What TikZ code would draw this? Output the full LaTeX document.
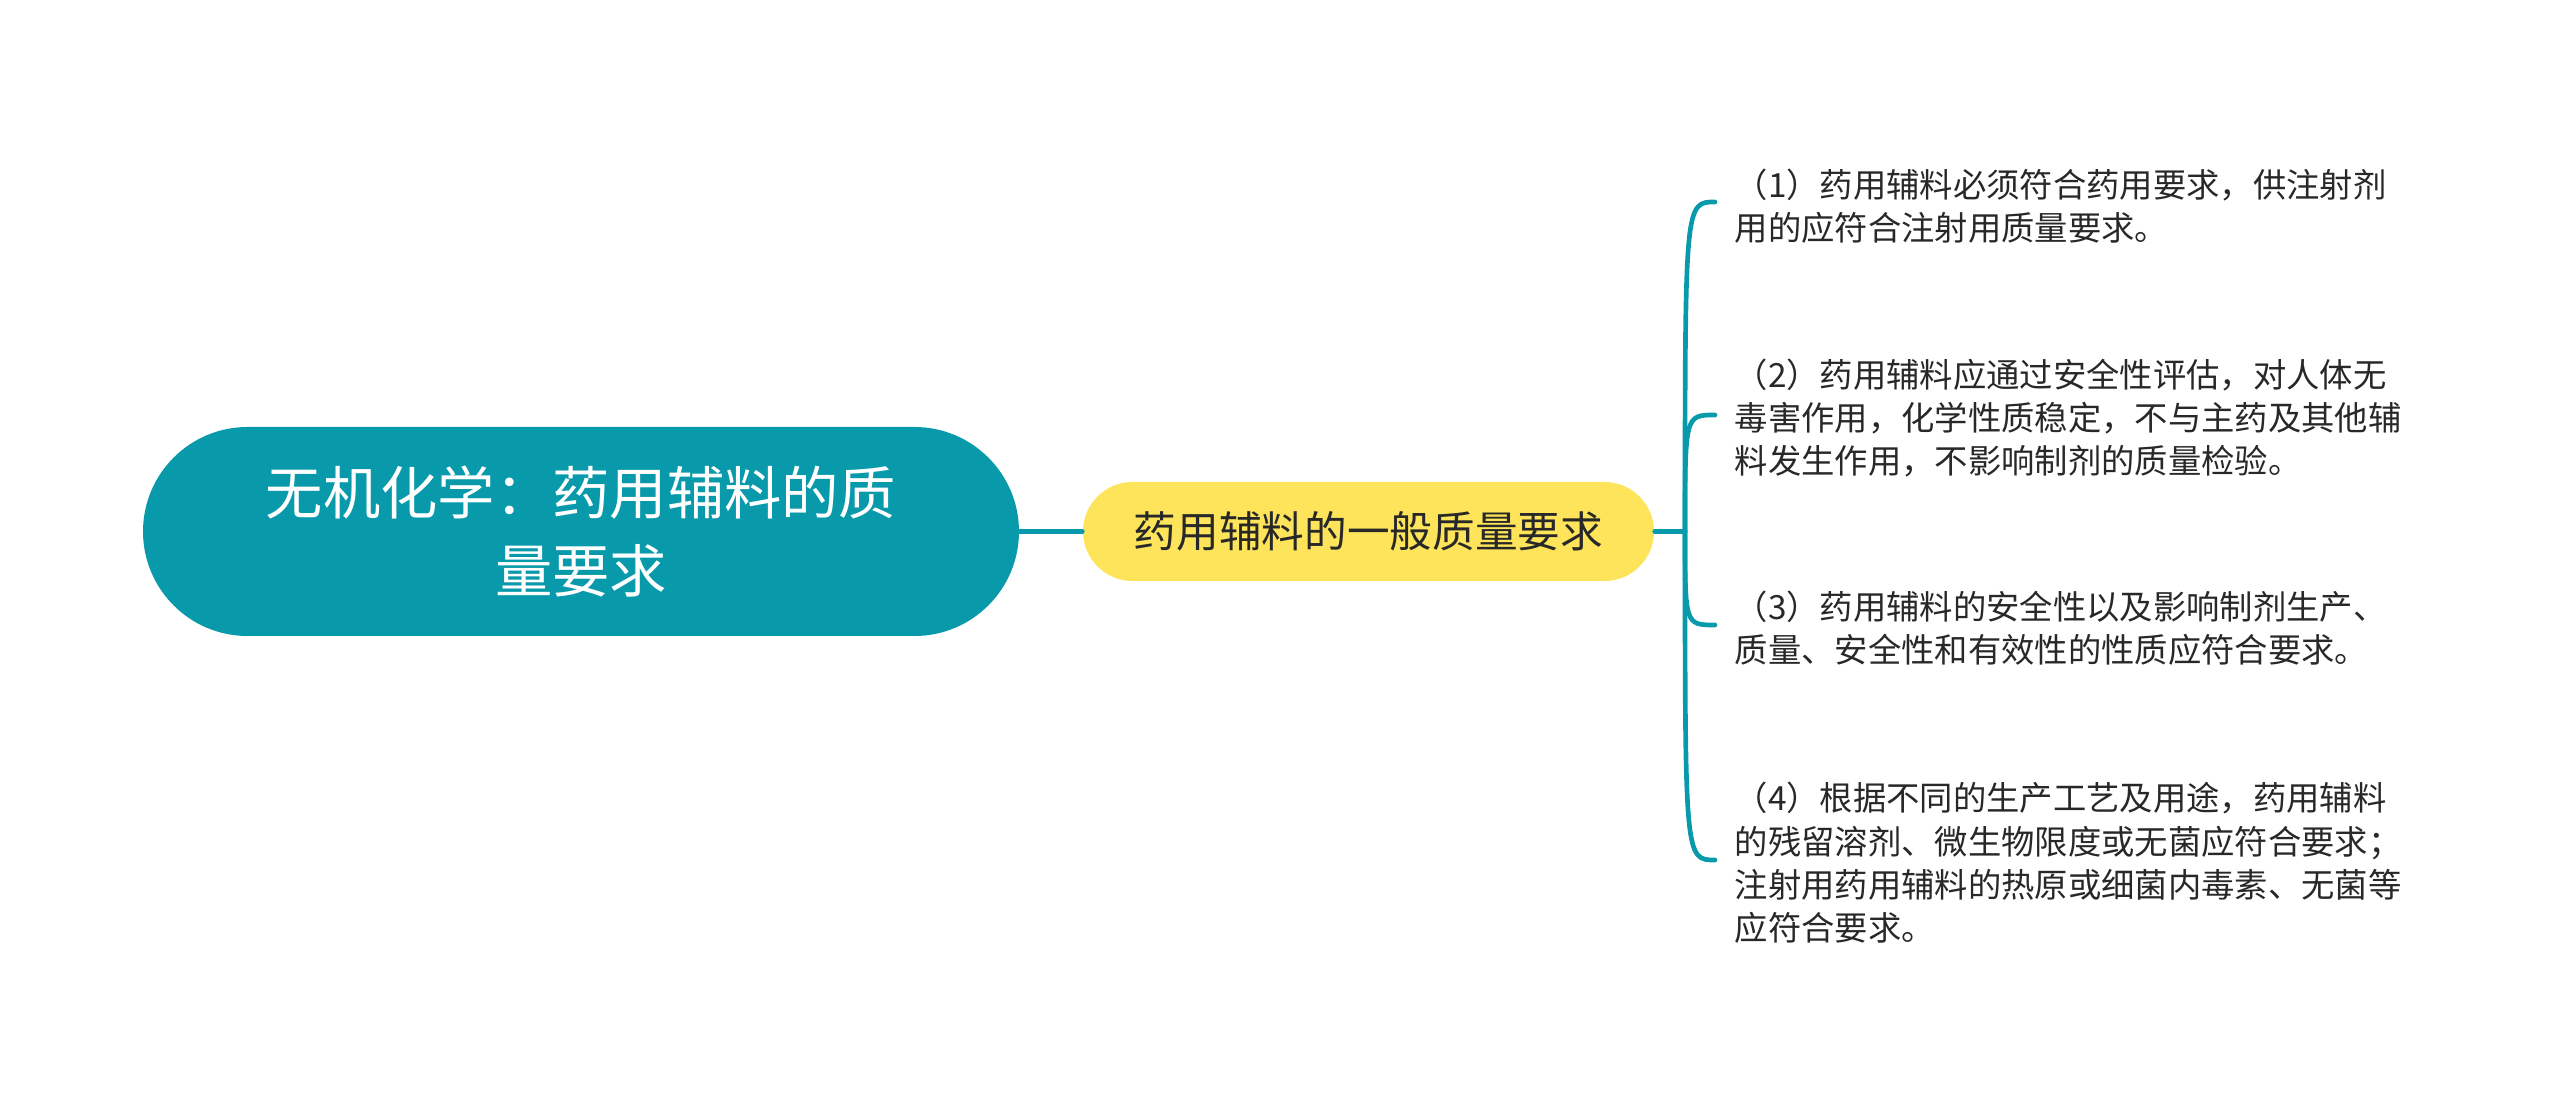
\documentclass[tikz,border=0pt]{standalone}
\usepackage{fontspec}
\newfontfamily\cjk{Noto Sans CJK SC}
\definecolor{teal1}{RGB}{8,154,170}
\definecolor{yel1}{RGB}{253,228,90}
\definecolor{txt1}{RGB}{40,40,40}
\tikzset{
  rootbox/.style={fill=teal1, draw=none, rounded corners=31.35pt, minimum width=262.8pt, minimum height=62.7pt, inner sep=0pt, text=white, align=center, font=\cjk\fontsize{17.2pt}{23.4pt}\selectfont},
  mainbox/.style={fill=yel1, draw=none, rounded corners=14.85pt, minimum width=171.3pt, minimum height=29.7pt, inner sep=0pt, text=txt1, font=\cjk\fontsize{12.8pt}{15pt}\selectfont},
  itembox/.style={anchor=west, inner sep=0pt, text=txt1, align=left, font=\cjk\fontsize{10pt}{13pt}\selectfont},
  conn/.style={draw=teal1, line width=1.4pt, line cap=round}
}
\begin{document}
\begin{tikzpicture}[x=0.3pt,y=-0.3pt]
\useasboundingbox (0,0) rectangle (2560,1106);
\node[rootbox] (root) at (581,531.5) {无机化学：药用辅料的质\\量要求};
\node[mainbox] (main) at (1368.5,531.5) {药用辅料的一般质量要求};
\node[itembox] (i1) at (1734,206.5) {（1）药用辅料必须符合药用要求，供注射剂\\用的应符合注射用质量要求。};
\node[itembox] (i2) at (1734,418) {（2）药用辅料应通过安全性评估，对人体无\\毒害作用，化学性质稳定，不与主药及其他辅\\料发生作用，不影响制剂的质量检验。};
\node[itembox] (i3) at (1734,628) {（3）药用辅料的安全性以及影响制剂生产、\\质量、安全性和有效性的性质应符合要求。};
\node[itembox] (i4) at (1734,863) {（4）根据不同的生产工艺及用途，药用辅料\\的残留溶剂、微生物限度或无菌应符合要求；\\注射用药用辅料的热原或细菌内毒素、无菌等\\应符合要求。};
\coordinate (J) at (1685,531.5);
\coordinate (e1) at (1715,202);
\coordinate (e2) at (1715,415);
\coordinate (e3) at (1715,625);
\coordinate (e4) at (1715,860);
\draw[conn] (root.east) -- (main.west);
\draw[conn] (main.east) -- (J);
\draw[conn] (J) .. controls (J |- e1) and (J |- e1) .. (e1);
\draw[conn] (J) .. controls (J |- e2) and (J |- e2) .. (e2);
\draw[conn] (J) .. controls (J |- e3) and (J |- e3) .. (e3);
\draw[conn] (J) .. controls (J |- e4) and (J |- e4) .. (e4);
\end{tikzpicture}
\end{document}
